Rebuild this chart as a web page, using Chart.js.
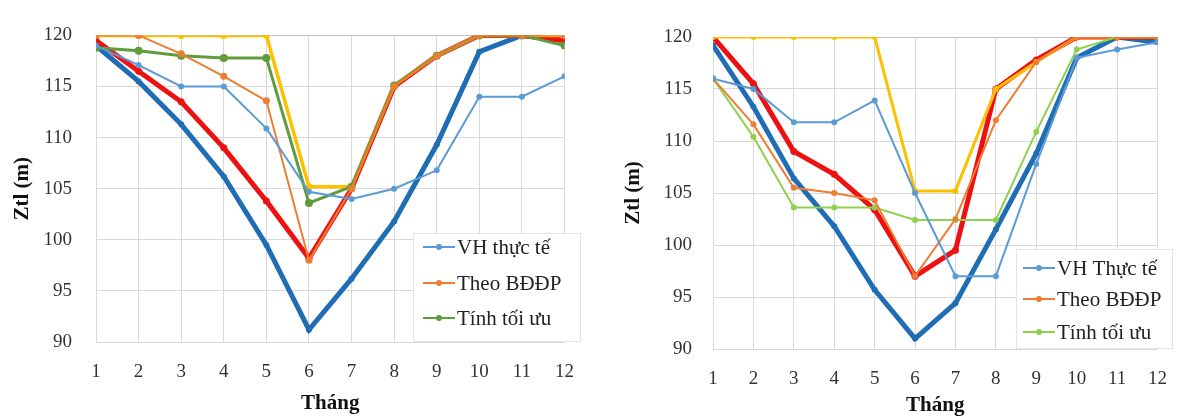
<!DOCTYPE html>
<html>
<head>
<meta charset="utf-8">
<script src="https://cdn.jsdelivr.net/npm/chart.js@4/dist/chart.umd.min.js"></script>
<style>
  html,body{margin:0;padding:0;background:#fff;}
  .wrap{position:absolute;top:0;height:418px;width:593px;}
  #boxL{left:0;} #boxR{left:593px;}
</style>
</head>
<body>
<div class="wrap" id="boxL"><canvas id="chartL"></canvas></div>
<div class="wrap" id="boxR"><canvas id="chartR"></canvas></div>
<script>
// Tháng 1..12
const months = [1,2,3,4,5,6,7,8,9,10,11,12];
const yTicks = [90,95,100,105,110,115,120];
const legendNames = ['VH thực tế', 'Theo BĐĐP', 'Tính tối ưu'];
const legendNamesR = ['VH Thực tế', 'Theo BĐĐP', 'Tính tối ưu'];

// biểu đồ trái
const leftVH     = [119, 117.1, 115, 115, 110.9, 104.7, 104, 105, 106.8, 114, 114, 116];
const leftBDDP   = [120, 120, 118.2, 116, 113.6, 98, 105, 115, 118, 120, 120, 120];
const leftToiUu  = [118.8, 118.5, 118, 117.8, 117.8, 103.6, 105.2, 115.1, 118, 120, 120, 119];
const leftYellow = [120, 120, 120, 120, 120, 105.2, 105.2, 115.1, 118, 120, 120, 120];
const leftRed    = [119.5, 116.5, 113.5, 109, 103.8, 98.2, 105, 115, 118, 120, 120, 119.5];
const leftBlue   = [119, 115.5, 111.3, 106.2, 99.5, 91.2, 96.2, 101.8, 109.3, 118.4, 120, 119.5];

// biểu đồ phải
const rightVH     = [116, 115, 111.8, 111.8, 113.9, 105, 97, 97, 107.8, 118, 118.8, 119.5];
const rightBDDP   = [116, 111.6, 105.5, 105, 104.3, 97, 102.5, 112, 117.6, 120, 120, 120];
const rightToiUu  = [116, 110.4, 103.6, 103.6, 103.6, 102.4, 102.4, 102.4, 110.9, 118.8, 120, 120];
const rightYellow = [120, 120, 120, 120, 120, 105.2, 105.2, 115, 117.6, 120, 120, 120];
const rightRed    = [120, 115.5, 109, 106.8, 103.4, 97, 99.5, 115, 117.8, 120, 120, 120];
const rightBlue   = [119.2, 113.3, 106.4, 101.8, 95.7, 91, 94.4, 101.5, 108.8, 118, 120, 119.5];

function pts(arr){ return arr.map((v,i) => ({x: months[i], y: v})); }

function ds(label, data, color, width, radius){
  return { label, data: pts(data), borderColor: color, backgroundColor: color,
    borderWidth: width, pointRadius: radius, pointHoverRadius: radius, pointBorderWidth: 0, tension: 0 };
}

// legend vẽ tay bên trong vùng biểu đồ
const boxLegend = {
  id: 'boxLegend',
  afterDatasetsDraw(chart, args, o){
    const c = chart.ctx;
    c.save();
    c.fillStyle = '#fff';
    c.fillRect(o.box[0], o.box[1], o.box[2], o.box[3]);
    c.strokeStyle = '#e4e4e4'; c.lineWidth = 1;
    c.strokeRect(o.box[0]+0.5, o.box[1]+0.5, o.box[2], o.box[3]);
    o.items.forEach((it, i) => {
      const d = chart.data.datasets[it];
      const y = o.ys[i];
      c.strokeStyle = d.borderColor; c.lineWidth = 2;
      c.beginPath(); c.moveTo(o.lx, y); c.lineTo(o.lx + o.len, y); c.stroke();
      c.fillStyle = d.borderColor;
      c.beginPath(); c.arc(o.lx + o.len/2, y, 3, 0, Math.PI*2); c.fill();
      c.fillStyle = '#222';
      c.font = '21px "Liberation Serif", "Times New Roman", serif';
      c.textBaseline = 'middle'; c.textAlign = 'left';
      c.fillText(d.label, o.lx + o.len + 2, y + 1);
    });
    c.restore();
  }
};

function makeChart(id, g, sets, legendOpts){
  return new Chart(document.getElementById(id), {
    type: 'line',
    data: { datasets: sets },
    plugins: [boxLegend],
    options: {
      responsive: true, maintainAspectRatio: false, animation: false,
      layout: { padding: { top: g.top, right: g.right, left: 0, bottom: 0 } },
      plugins: { legend: { display: false }, tooltip: { enabled: false }, boxLegend: legendOpts },
      scales: {
        x: {
          type: 'linear', min: 1, max: 12,
          afterFit: s => { s.height = g.xh; },
          afterBuildTicks: s => { s.ticks = months.map(v => ({value: v})); },
          grid: { color: '#d9d9d9', drawTicks: false },
          border: { color: '#d9d9d9' },
          ticks: { padding: g.xpad, color: '#333', font: { family: '"Liberation Serif", serif', size: 19 }, maxRotation: 0 },
          title: { display: true, text: 'Tháng', color: '#111', padding: { top: 0, bottom: g.xtb },
            font: { family: '"Liberation Serif", serif', size: 21, weight: 'bold' } }
        },
        y: {
          min: 90, max: 120,
          afterFit: s => { s.width = g.yw; },
          afterBuildTicks: s => { s.ticks = yTicks.map(v => ({value: v})); },
          grid: { color: ctx => ctx.tick && ctx.tick.value === 120 ? '#bfbfbf' : '#d9d9d9', drawTicks: false },
          border: { color: '#d9d9d9' },
          ticks: { padding: g.ypad, color: '#333', font: { family: '"Liberation Serif", serif', size: 19 } },
          title: { display: true, text: 'Ztl (m)', color: '#111', padding: { top: g.ytt, bottom: 0 },
            font: { family: '"Liberation Serif", serif', size: 21, weight: 'bold' } }
        }
      }
    }
  });
}

makeChart('chartL',
  { top: 35, right: 13, xh: 76, yw: 96, xpad: 19, ypad: 24, xtb: 2, ytt: 10 },
  [
    ds(legendNames[0], leftVH, '#5b9bd5', 2, 3),
    ds(legendNames[1], leftBDDP, '#ed7d31', 2, 3.5),
    ds(legendNames[2], leftToiUu, '#5e9c3c', 3, 4),
    ds('Đường 4', leftYellow, '#ffc000', 3.5, 3.5),
    ds('Đường 5', leftRed, '#ee1111', 5, 3.5),
    ds('Đường 6', leftBlue, '#1f6db5', 5, 3)
  ],
  { box: [413, 233, 167, 108], lx: 423, len: 32, ys: [247, 283, 318], items: [0,1,2] }
);

makeChart('chartR',
  { top: 37, right: 14, xh: 69, yw: 120, xpad: 19, ypad: 21, xtb: 0, ytt: 28 },
  [
    ds(legendNamesR[0], rightVH, '#5b9bd5', 2, 3),
    ds(legendNamesR[1], rightBDDP, '#ed7d31', 2, 3),
    ds(legendNamesR[2], rightToiUu, '#8fd14f', 2, 3),
    ds('Đường 4', rightYellow, '#ffc000', 3, 3),
    ds('Đường 5', rightRed, '#ee1111', 5, 3.5),
    ds('Đường 6', rightBlue, '#1f6db5', 5, 3)
  ],
  { box: [423, 249, 156, 99], lx: 430, len: 32, ys: [268, 299, 332], items: [0,1,2] }
);
</script>
</body>
</html>
